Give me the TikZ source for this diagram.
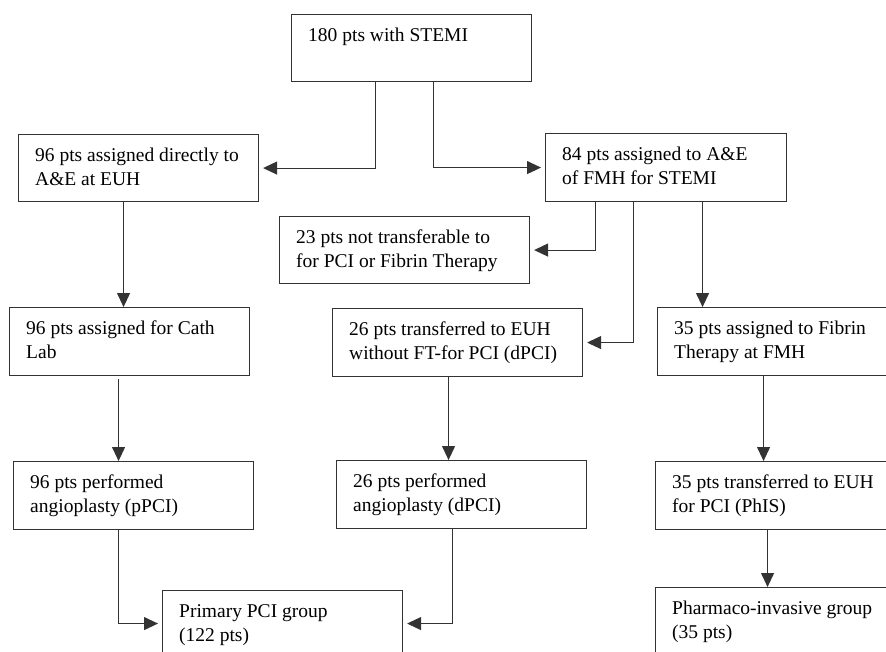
\documentclass[tikz,border=0pt]{standalone}
\usepackage{fontspec}
\setmainfont{Liberation Serif}
\usetikzlibrary{arrows.meta}
\begin{document}
\begin{tikzpicture}[x=1pt,y=-1pt,
  box/.style={draw=black!80, line width=1.1pt, rectangle, inner sep=0pt, anchor=north west},
  txt/.style={anchor=north west, inner sep=0pt, align=left, font=\fontsize{19.5}{24}\selectfont, text=black},
  arr/.style={-{Triangle[length=14pt,width=13pt]}, draw=black!80, line width=1.1pt},
  harr/.style={arr, shorten >=4pt}]
\useasboundingbox (0,0) rectangle (886,651);
\clip (0,0) rectangle (886,651);
% boxes
\node[box, minimum width=240pt, minimum height=67pt] (a) at (291,14) {};
\node[box, minimum width=240pt, minimum height=67pt] (b) at (18,134) {};
\node[box, minimum width=241pt, minimum height=68pt] (c) at (545,133) {};
\node[box, minimum width=250pt, minimum height=67pt] (d) at (279,216) {};
\node[box, minimum width=250pt, minimum height=68pt] (e) at (332,308) {};
\node[box, minimum width=240pt, minimum height=68pt] (f) at (657,307) {};
\node[box, minimum width=240pt, minimum height=68pt] (g) at (9,307) {};
\node[box, minimum width=240pt, minimum height=68pt] (h) at (13,461) {};
\node[box, minimum width=250pt, minimum height=68pt] (i) at (336,460) {};
\node[box, minimum width=240pt, minimum height=68pt] (j) at (655,461) {};
\node[box, minimum width=240pt, minimum height=66pt] (k) at (162,590) {};
\node[box, minimum width=240pt, minimum height=68pt] (l) at (655,587) {};
% texts
\node[txt] (at) at ([xshift=17pt,yshift=-10.2pt]a.north west) {\strut 180 pts with STEMI};
\node[txt] (bt) at ([xshift=17pt,yshift=-10.2pt]b.north west) {\strut 96 pts assigned directly to\\A\&E at EUH};
\node[txt] (ct) at ([xshift=17pt,yshift=-10.2pt]c.north west) {\strut 84 pts assigned to A\&E\\of FMH for STEMI};
\node[txt] (dt) at ([xshift=17pt,yshift=-10.2pt]d.north west) {\strut 23 pts not transferable to\\for PCI or Fibrin Therapy};
\node[txt] (et) at ([xshift=17pt,yshift=-10.2pt]e.north west) {\strut 26 pts transferred to EUH\\without FT-for PCI (dPCI)};
\node[txt] (ft) at ([xshift=17pt,yshift=-10.2pt]f.north west) {\strut 35 pts assigned to Fibrin\\Therapy at FMH};
\node[txt] (gt) at ([xshift=17pt,yshift=-10.2pt]g.north west) {\strut 96 pts assigned for Cath\\Lab};
\node[txt] (ht) at ([xshift=17pt,yshift=-10.2pt]h.north west) {\strut 96 pts performed\\angioplasty (pPCI)};
\node[txt] (it) at ([xshift=17pt,yshift=-10.2pt]i.north west) {\strut 26 pts performed\\angioplasty (dPCI)};
\node[txt] (jt) at ([xshift=17pt,yshift=-10.2pt]j.north west) {\strut 35 pts transferred to EUH\\for PCI (PhIS)};
\node[txt] (kt) at ([xshift=17pt,yshift=-10.2pt]k.north west) {\strut Primary PCI group\\(122 pts)};
\node[txt] (lt) at ([xshift=17pt,yshift=-10.2pt]l.north west) {\strut Pharmaco-invasive group\\(35 pts)};
% connectors
\draw[harr] ([xshift=-36pt]a.south) |- (b.east);
\draw[harr] ([xshift=22pt]a.south) |- (c.west);
\draw[harr] ([xshift=-70.5pt]c.south) |- (d.east);
\draw[harr] ([xshift=-32.5pt]c.south) |- (e.east);
\draw[arr] ([xshift=36.5pt]c.south) -- ([xshift=36.5pt]c.south |- f.north);
\draw[arr] ([xshift=-15pt]b.south) -- ([xshift=-15pt]b.south |- g.north);
\draw[arr] ([xshift=-11pt,yshift=-3pt]g.south) -- ([xshift=-11pt]g.south |- h.north);
\draw[arr] ([xshift=-9pt]e.south) -- ([xshift=-9pt]e.south |- i.north);
\draw[arr] ([xshift=-14pt]f.south) -- ([xshift=-14pt]f.south |- j.north);
\draw[harr] ([xshift=-15pt]h.south) |- (k.west);
\draw[harr] ([xshift=-9pt]i.south) |- (k.east);
\draw[arr] ([xshift=-8pt]j.south) -- ([xshift=-8pt]j.south |- l.north);
\end{tikzpicture}
\end{document}
